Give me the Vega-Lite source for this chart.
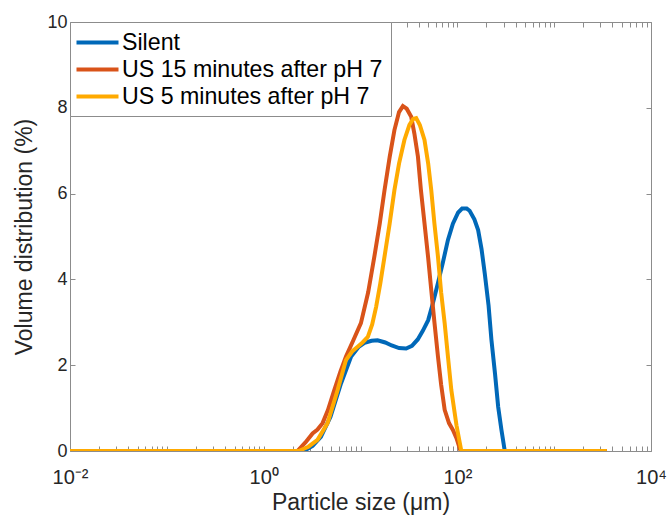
{
  "$schema": "https://vega.github.io/schema/vega-lite/v6.json",
  "width": 581,
  "height": 429,
  "autosize": "none",
  "padding": {"left": 70, "top": 22, "right": 16, "bottom": 64},
  "background": "white",
  "config": {
    "font": "Liberation Sans",
    "view": {"stroke": "#8c8c8c", "strokeWidth": 1},
    "axis": {"grid": false, "domain": false, "tickColor": "#8c8c8c", "labelFont": "Liberation Sans", "titleFont": "Liberation Sans", "labelFontSize": 18, "titleFontSize": 23, "labelColor": "#262626", "titleColor": "#262626", "titleFontWeight": "normal"}
  },
  "data": {"values": [
    {"s": "Silent", "x": 0.01, "y": 0},
    {"s": "Silent", "x": 2.6, "y": 0},
    {"s": "Silent", "x": 3.2, "y": 0.12},
    {"s": "Silent", "x": 3.9, "y": 0.33},
    {"s": "Silent", "x": 4.9, "y": 0.8},
    {"s": "Silent", "x": 6.3, "y": 1.58},
    {"s": "Silent", "x": 8.0, "y": 2.2},
    {"s": "Silent", "x": 9.5, "y": 2.42},
    {"s": "Silent", "x": 11, "y": 2.52},
    {"s": "Silent", "x": 13, "y": 2.57},
    {"s": "Silent", "x": 15, "y": 2.58},
    {"s": "Silent", "x": 18, "y": 2.53},
    {"s": "Silent", "x": 21, "y": 2.46},
    {"s": "Silent", "x": 25, "y": 2.4},
    {"s": "Silent", "x": 29.6, "y": 2.39},
    {"s": "Silent", "x": 34, "y": 2.45},
    {"s": "Silent", "x": 39, "y": 2.6},
    {"s": "Silent", "x": 44, "y": 2.8},
    {"s": "Silent", "x": 50, "y": 3.05},
    {"s": "Silent", "x": 56, "y": 3.45},
    {"s": "Silent", "x": 63, "y": 3.91},
    {"s": "Silent", "x": 71, "y": 4.4},
    {"s": "Silent", "x": 80, "y": 4.92},
    {"s": "Silent", "x": 90, "y": 5.3},
    {"s": "Silent", "x": 102, "y": 5.56},
    {"s": "Silent", "x": 112, "y": 5.65},
    {"s": "Silent", "x": 125, "y": 5.65},
    {"s": "Silent", "x": 134, "y": 5.6},
    {"s": "Silent", "x": 150, "y": 5.4},
    {"s": "Silent", "x": 164, "y": 5.15},
    {"s": "Silent", "x": 178, "y": 4.7},
    {"s": "Silent", "x": 192, "y": 4.14},
    {"s": "Silent", "x": 210, "y": 3.4},
    {"s": "Silent", "x": 225, "y": 2.59},
    {"s": "Silent", "x": 245, "y": 1.8},
    {"s": "Silent", "x": 264, "y": 1.03},
    {"s": "Silent", "x": 285, "y": 0.5},
    {"s": "Silent", "x": 309, "y": 0},
    {"s": "Silent", "x": 3500, "y": 0},
    {"s": "US 15 minutes after pH 7", "x": 0.01, "y": 0},
    {"s": "US 15 minutes after pH 7", "x": 2.23, "y": 0},
    {"s": "US 15 minutes after pH 7", "x": 2.7, "y": 0.2},
    {"s": "US 15 minutes after pH 7", "x": 3.2, "y": 0.41},
    {"s": "US 15 minutes after pH 7", "x": 3.6, "y": 0.5},
    {"s": "US 15 minutes after pH 7", "x": 4.06, "y": 0.65},
    {"s": "US 15 minutes after pH 7", "x": 4.6, "y": 0.95},
    {"s": "US 15 minutes after pH 7", "x": 5.36, "y": 1.42},
    {"s": "US 15 minutes after pH 7", "x": 6.2, "y": 1.85},
    {"s": "US 15 minutes after pH 7", "x": 7.08, "y": 2.2},
    {"s": "US 15 minutes after pH 7", "x": 8.5, "y": 2.6},
    {"s": "US 15 minutes after pH 7", "x": 10.1, "y": 2.98},
    {"s": "US 15 minutes after pH 7", "x": 12, "y": 3.7},
    {"s": "US 15 minutes after pH 7", "x": 13.9, "y": 4.53},
    {"s": "US 15 minutes after pH 7", "x": 15.8, "y": 5.3},
    {"s": "US 15 minutes after pH 7", "x": 17.7, "y": 6.08},
    {"s": "US 15 minutes after pH 7", "x": 20, "y": 6.85},
    {"s": "US 15 minutes after pH 7", "x": 22.4, "y": 7.48},
    {"s": "US 15 minutes after pH 7", "x": 25, "y": 7.9},
    {"s": "US 15 minutes after pH 7", "x": 27.4, "y": 8.04},
    {"s": "US 15 minutes after pH 7", "x": 30, "y": 7.98},
    {"s": "US 15 minutes after pH 7", "x": 33.4, "y": 7.79},
    {"s": "US 15 minutes after pH 7", "x": 36, "y": 7.4},
    {"s": "US 15 minutes after pH 7", "x": 39.2, "y": 6.86},
    {"s": "US 15 minutes after pH 7", "x": 42, "y": 6.1},
    {"s": "US 15 minutes after pH 7", "x": 45.8, "y": 5.31},
    {"s": "US 15 minutes after pH 7", "x": 50, "y": 4.5},
    {"s": "US 15 minutes after pH 7", "x": 53.8, "y": 3.75},
    {"s": "US 15 minutes after pH 7", "x": 58, "y": 3.0},
    {"s": "US 15 minutes after pH 7", "x": 63.1, "y": 2.2},
    {"s": "US 15 minutes after pH 7", "x": 68, "y": 1.55},
    {"s": "US 15 minutes after pH 7", "x": 74, "y": 0.96},
    {"s": "US 15 minutes after pH 7", "x": 82, "y": 0.65},
    {"s": "US 15 minutes after pH 7", "x": 90, "y": 0.49},
    {"s": "US 15 minutes after pH 7", "x": 98, "y": 0.3},
    {"s": "US 15 minutes after pH 7", "x": 108, "y": 0},
    {"s": "US 15 minutes after pH 7", "x": 3500, "y": 0},
    {"s": "US 5 minutes after pH 7", "x": 0.01, "y": 0},
    {"s": "US 5 minutes after pH 7", "x": 2.3, "y": 0},
    {"s": "US 5 minutes after pH 7", "x": 2.9, "y": 0.1},
    {"s": "US 5 minutes after pH 7", "x": 3.6, "y": 0.26},
    {"s": "US 5 minutes after pH 7", "x": 4.57, "y": 0.65},
    {"s": "US 5 minutes after pH 7", "x": 5.8, "y": 1.42},
    {"s": "US 5 minutes after pH 7", "x": 7.08, "y": 2.12},
    {"s": "US 5 minutes after pH 7", "x": 8.2, "y": 2.32},
    {"s": "US 5 minutes after pH 7", "x": 9.35, "y": 2.43},
    {"s": "US 5 minutes after pH 7", "x": 10.5, "y": 2.53},
    {"s": "US 5 minutes after pH 7", "x": 11.9, "y": 2.66},
    {"s": "US 5 minutes after pH 7", "x": 13.2, "y": 2.95},
    {"s": "US 5 minutes after pH 7", "x": 14.5, "y": 3.36},
    {"s": "US 5 minutes after pH 7", "x": 16, "y": 3.9},
    {"s": "US 5 minutes after pH 7", "x": 17.7, "y": 4.53},
    {"s": "US 5 minutes after pH 7", "x": 20, "y": 5.3},
    {"s": "US 5 minutes after pH 7", "x": 22.4, "y": 6.08},
    {"s": "US 5 minutes after pH 7", "x": 25, "y": 6.7},
    {"s": "US 5 minutes after pH 7", "x": 28.4, "y": 7.25},
    {"s": "US 5 minutes after pH 7", "x": 32, "y": 7.6},
    {"s": "US 5 minutes after pH 7", "x": 35, "y": 7.74},
    {"s": "US 5 minutes after pH 7", "x": 37.6, "y": 7.76},
    {"s": "US 5 minutes after pH 7", "x": 41, "y": 7.6},
    {"s": "US 5 minutes after pH 7", "x": 45.8, "y": 7.25},
    {"s": "US 5 minutes after pH 7", "x": 50, "y": 6.7},
    {"s": "US 5 minutes after pH 7", "x": 53.8, "y": 6.08},
    {"s": "US 5 minutes after pH 7", "x": 58, "y": 5.3},
    {"s": "US 5 minutes after pH 7", "x": 63.1, "y": 4.53},
    {"s": "US 5 minutes after pH 7", "x": 68, "y": 3.7},
    {"s": "US 5 minutes after pH 7", "x": 74, "y": 2.98},
    {"s": "US 5 minutes after pH 7", "x": 80, "y": 2.2},
    {"s": "US 5 minutes after pH 7", "x": 86.7, "y": 1.42},
    {"s": "US 5 minutes after pH 7", "x": 98, "y": 0.6},
    {"s": "US 5 minutes after pH 7", "x": 110, "y": 0},
    {"s": "US 5 minutes after pH 7", "x": 3500, "y": 0}
  ]},
  "resolve": {"axis": {"x": "independent", "y": "independent"}},
  "layer": [
    {
      "mark": {"type": "line", "strokeWidth": 4, "clip": true},
      "encoding": {
        "x": {"field": "x", "type": "quantitative",
          "scale": {"type": "log", "domain": [0.01, 10000], "nice": false},
          "axis": {"title": "Particle size (μm)", "orient": "bottom",
            "values": [0.01,0.02,0.03,0.04,0.05,0.06,0.07,0.08,0.09,0.1,0.2,0.3,0.4,0.5,0.6,0.7,0.8,0.9,1,2,3,4,5,6,7,8,9,10,20,30,40,50,60,70,80,90,100,200,300,400,500,600,700,800,900,1000,2000,3000,4000,5000,6000,7000,8000,9000,10000],
            "labelExpr": "datum.value == 0.01 ? '10⁻²' : datum.value == 1 ? '10⁰' : datum.value == 100 ? '10²' : datum.value == 10000 ? '10⁴' : ''",
            "labelOverlap": false, "labelFlush": false, "tickSize": -5, "labelFontSize": 20, "labelPadding": 21, "titlePadding": 4}},
        "y": {"field": "y", "type": "quantitative",
          "scale": {"domain": [0, 10], "nice": false},
          "axis": {"title": "Volume distribution (%)", "orient": "left", "values": [0,2,4,6,8,10], "tickSize": -5, "labelPadding": 8, "titlePadding": 10}},
        "color": {"field": "s", "type": "nominal",
          "scale": {"domain": ["Silent", "US 15 minutes after pH 7", "US 5 minutes after pH 7"], "range": ["#0068B8", "#D95319", "#FFAA00"]},
          "legend": {"title": null, "orient": "top-left", "offset": 0, "strokeColor": "#8c8c8c", "fillColor": "white", "padding": 8, "symbolType": "M-2,0H2", "symbolStrokeWidth": 4, "symbolSize": 441, "symbolOffset": 7, "labelFontSize": 23.2, "labelFont": "Liberation Sans", "labelColor": "#000000", "labelOffset": 12, "labelLimit": 0, "rowPadding": 3}}
      }
    },
    {
      "mark": {"type": "line", "opacity": 0},
      "encoding": {
        "x": {"field": "x", "type": "quantitative",
          "axis": {"title": null, "orient": "top", "labels": false,
            "values": [0.01,0.02,0.03,0.04,0.05,0.06,0.07,0.08,0.09,0.1,0.2,0.3,0.4,0.5,0.6,0.7,0.8,0.9,1,2,3,4,5,6,7,8,9,10,20,30,40,50,60,70,80,90,100,200,300,400,500,600,700,800,900,1000,2000,3000,4000,5000,6000,7000,8000,9000,10000],
            "tickSize": -5}},
        "y": {"field": "y", "type": "quantitative",
          "axis": {"title": null, "orient": "right", "labels": false, "values": [0,2,4,6,8,10], "tickSize": -5}},
        "detail": {"field": "s"}
      }
    }
  ]
}
